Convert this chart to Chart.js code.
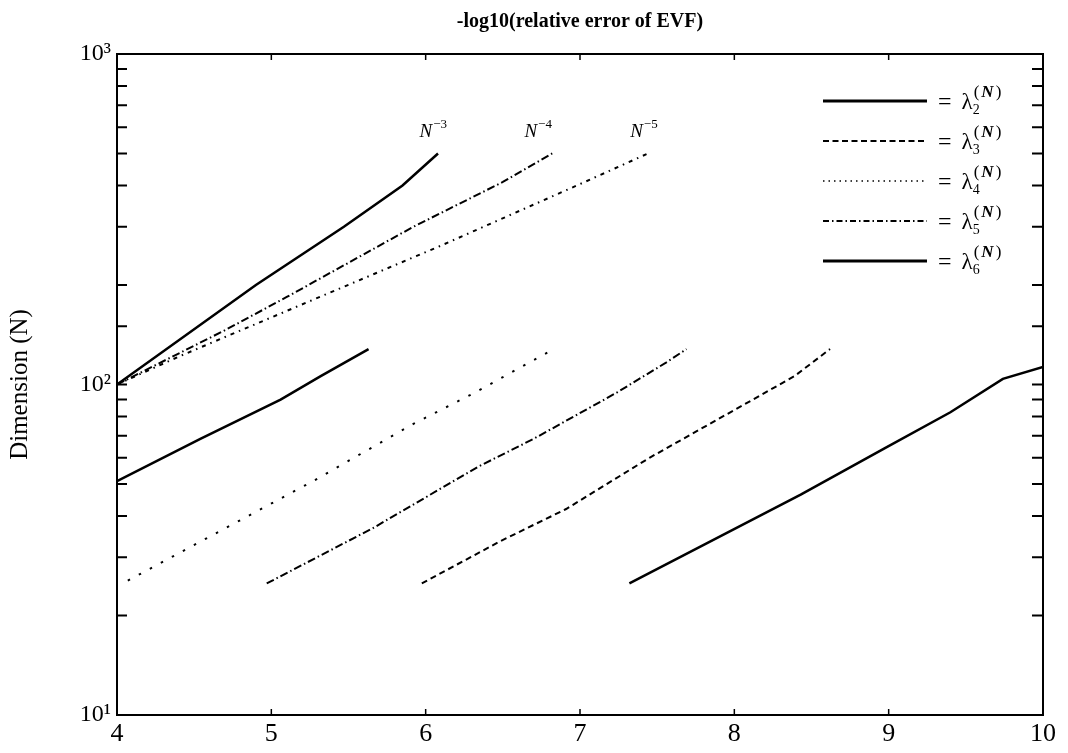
<!DOCTYPE html>
<html><head><meta charset="utf-8">
<script src="https://cdn.jsdelivr.net/npm/chart.js@4.4.0/dist/chart.umd.min.js"></script>
<style>html,body{margin:0;padding:0;background:#fff}#wrap{width:1068px;height:753px;position:relative}</style>
</head><body><div id="wrap"><canvas id="c"></canvas></div>
<script>
// ---- data (x = -log10 relative error of EVF, y = dimension N) ----
const xTickValues = [4, 5, 6, 7, 8, 9, 10];
const yTickLabels = {10: '10\u00B9', 100: '10\u00B2', 1000: '10\u00B3'};

const lam2X = [4.0, 4.54, 5.06, 5.32, 5.63];
const lam2N = [51, 68.5, 90, 106, 128];
const lam3X = [5.975, 6.48, 6.91, 7.45, 8.39, 8.62];
const lam3N = [25, 33.5, 42, 60, 106, 128];
const lam4X = [4.07, 5.27, 5.92, 6.30, 6.83];
const lam4N = [25.5, 51, 76, 93.5, 128];
const lam5X = [4.97, 5.66, 6.34, 6.70, 7.24, 7.56, 7.69];
const lam5N = [25, 36.8, 56.4, 68.5, 94.6, 116.7, 128];
const lam6X = [7.32, 8.43, 8.97, 9.40, 9.74, 10.0];
const lam6N = [25, 46.4, 64, 82.4, 104, 113];

const ref3X = [4.0, 4.9, 5.47, 5.85, 6.08];
const ref3N = [100, 200, 300, 400, 500];
const ref4X = [4.0, 4.7, 5.1, 5.92, 6.5, 6.82];
const ref4N = [100, 146, 184, 300, 410, 500];
const ref5X = [4.0, 4.41, 6.09, 7.0, 7.44];
const ref5N = [100, 122, 262, 404, 500];

const refLabelExp = ['\u22123', '\u22124', '\u22125'];
const refLabelX = [5.96, 6.64, 7.325];
const refLabelN = [560, 560, 560];

const legendSubs = ['2', '3', '4', '5', '6'];

// ---- styles ----
const SERIF = '"Liberation Serif", "Times New Roman", serif';
const styles = {
  lam2: {w: 2.5, dash: []},
  lam3: {w: 2, dash: [6, 4]},
  lam4: {w: 2, dash: [2.5, 10]},
  lam5: {w: 2, dash: [8, 3, 1.5, 3]},
  lam6: {w: 2.5, dash: []},
  ref3: {w: 2.5, dash: []},
  ref4: {w: 2, dash: [8, 3, 1.5, 3]},
  ref5: {w: 2, dash: [4, 5, 1.5, 5]}
};
const legendStyles = [
  {w: 3, dash: []},
  {w: 2, dash: [6, 3.5]},
  {w: 1.5, dash: [1.5, 4]},
  {w: 2, dash: [6, 3, 1.5, 3]},
  {w: 3, dash: []}
];

function pts(xs, ns) { return xs.map((x, i) => ({x: x, y: ns[i]})); }
function ds(label, xs, ns, st) {
  return {label: label, data: pts(xs, ns), showLine: true, borderColor: '#000',
    backgroundColor: '#000', borderWidth: st.w, borderDash: st.dash, pointRadius: 0,
    pointHoverRadius: 0, fill: false, tension: 0, borderCapStyle: 'butt', clip: 0};
}

const decoPlugin = {
  id: 'deco',
  afterDraw(chart) {
    const ctx = chart.ctx, a = chart.chartArea;
    const xs = chart.scales.x, ys = chart.scales.y;
    ctx.save();
    ctx.strokeStyle = '#000';
    ctx.setLineDash([]);
    // frame
    ctx.lineWidth = 2;
    ctx.strokeRect(a.left, a.top, a.right - a.left, a.bottom - a.top);
    // inward ticks on y (log minor + major)
    ctx.lineWidth = 2;
    ys.ticks.forEach(t => {
      const v = t.value;
      if (v <= 10 || v >= 1000) return;
      const py = ys.getPixelForValue(v);
      ctx.beginPath();
      ctx.moveTo(a.left, py); ctx.lineTo(a.left + 10, py);
      ctx.moveTo(a.right, py); ctx.lineTo(a.right - 11, py);
      ctx.stroke();
    });
    // inward ticks on x
    ctx.lineWidth = 1.5;
    xTickValues.forEach(v => {
      if (v === 4 || v === 10) return;
      const px = xs.getPixelForValue(v);
      ctx.beginPath();
      ctx.moveTo(px, a.bottom); ctx.lineTo(px, a.bottom - 6);
      ctx.moveTo(px, a.top); ctx.lineTo(px, a.top + 6);
      ctx.stroke();
    });
    // N^-k labels
    ctx.fillStyle = '#000';
    ctx.textBaseline = 'alphabetic';
    ctx.textAlign = 'left';
    refLabelExp.forEach((e, i) => {
      const px = xs.getPixelForValue(refLabelX[i]);
      const py = ys.getPixelForValue(refLabelN[i]);
      ctx.font = 'italic 19px ' + SERIF;
      ctx.fillText('N', px, py);
      const w = ctx.measureText('N').width;
      ctx.font = '13px ' + SERIF;
      ctx.fillText(e, px + w + 1, py - 9);
    });
    // legend
    const lx0 = a.right - 220, lx1 = a.right - 116;
    legendSubs.forEach((s, i) => {
      const ly = a.top + 47 + i * 40;
      const st = legendStyles[i];
      ctx.lineWidth = st.w;
      ctx.setLineDash(st.dash);
      ctx.beginPath();
      ctx.moveTo(lx0, ly); ctx.lineTo(lx1, ly);
      ctx.stroke();
      ctx.setLineDash([]);
      let x = lx1 + 11;
      ctx.font = '24px ' + SERIF;
      ctx.fillText('=', x, ly + 8);
      x += ctx.measureText('=').width + 10;
      ctx.font = '23px ' + SERIF;
      ctx.fillText('\u03BB', x, ly + 8);
      x += ctx.measureText('\u03BB').width;
      ctx.font = '14px ' + SERIF;
      ctx.fillText(s, x, ly + 13);
      ctx.font = '17px ' + SERIF;
      ctx.fillText('(', x + 1, ly - 4);
      let x2 = x + 1 + ctx.measureText('(').width + 2;
      ctx.font = 'italic bold 17px ' + SERIF;
      ctx.fillText('N', x2, ly - 4);
      x2 += ctx.measureText('N').width + 2;
      ctx.font = '17px ' + SERIF;
      ctx.fillText(')', x2, ly - 4);
    });
    ctx.restore();
  }
};

new Chart(document.getElementById('c'), {
  type: 'scatter',
  data: {
    datasets: [
      ds('lambda2', lam2X, lam2N, styles.lam2),
      ds('lambda3', lam3X, lam3N, styles.lam3),
      ds('lambda4', lam4X, lam4N, styles.lam4),
      ds('lambda5', lam5X, lam5N, styles.lam5),
      ds('lambda6', lam6X, lam6N, styles.lam6),
      ds('N^-3', ref3X, ref3N, styles.ref3),
      ds('N^-4', ref4X, ref4N, styles.ref4),
      ds('N^-5', ref5X, ref5N, styles.ref5)
    ]
  },
  options: {
    responsive: true,
    maintainAspectRatio: false,
    animation: false,
    events: [],
    layout: {padding: {left: 0, right: 25, top: 0, bottom: 0}},
    plugins: {
      legend: {display: false},
      tooltip: {enabled: false},
      title: {
        display: true,
        fullSize: false,
        text: '-log10(relative error of EVF)',
        color: '#000',
        font: {family: SERIF, size: 20, weight: 'bold'},
        padding: {top: 10, bottom: 20}
      }
    },
    scales: {
      x: {
        type: 'linear', min: 4, max: 10,
        afterBuildTicks: s => { s.ticks = xTickValues.map(v => ({value: v})); },
        ticks: {color: '#000', font: {family: SERIF, size: 26}, padding: 4,
          callback: v => String(v), maxRotation: 0, autoSkip: false},
        grid: {display: false, drawTicks: false},
        border: {display: false},
        afterFit: s => { s.height = 38; }
      },
      y: {
        type: 'logarithmic', min: 10, max: 1000,
        ticks: {color: '#000', font: {family: SERIF, size: 24}, padding: 6, autoSkip: false,
          callback: v => {
            const e = Math.log10(v);
            return Math.abs(e - Math.round(e)) < 1e-9 ? (yTickLabels[Math.round(v)] || '') : '';
          }},
        grid: {display: false, drawTicks: false},
        border: {display: false},
        title: {display: true, text: 'Dimension (N)', color: '#000',
          font: {family: SERIF, size: 25}, padding: {top: 5, bottom: 0}},
        afterFit: s => { s.width = 117; }
      }
    }
  },
  plugins: [decoPlugin]
});
</script>
</body></html>
